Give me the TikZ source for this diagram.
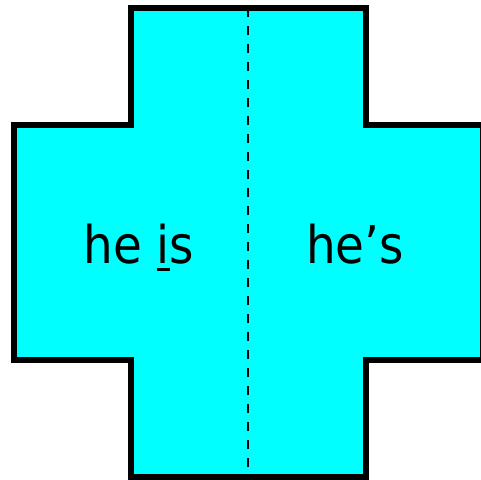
\documentclass[tikz,border=0pt]{standalone}
\usepackage{fontspec}
\setmainfont{DejaVu Sans Condensed}
\definecolor{crossfill}{RGB}{0,255,255}
\newcommand\markchar[1]{\makebox[0pt][l]{\raisebox{-8pt}{\rule{13pt}{3pt}}}#1}
\begin{document}
\begin{tikzpicture}[x=1pt,y=-1pt,
  crossbox/.style={fill=crossfill, draw=black, line width=6pt, miter limit=10},
  foldline/.style={line width=2.5pt, dash pattern=on 9pt off 9pt},
  word/.style={anchor=base, inner sep=0pt, font=\fontsize{52}{60}\selectfont}]
  \useasboundingbox (0,0) rectangle (481,479);
  \clip (0,0) rectangle (481,479);
  % the cross
  \draw[crossbox] (131,8) -- (366,8) -- (366,125) -- (483,125) -- (483,360)
    -- (366,360) -- (366,477) -- (131,477) -- (131,360) -- (14,360)
    -- (14,125) -- (131,125) -- cycle;
  \coordinate (top) at (248,8);
  \coordinate (bottom) at (248,477);
  \draw[foldline] (top) -- (bottom);
  \node[word] (full) at (139,263) {he \markchar{i}s};
  \node[word] (short) at (355,263) {he’s};
\end{tikzpicture}
\end{document}
